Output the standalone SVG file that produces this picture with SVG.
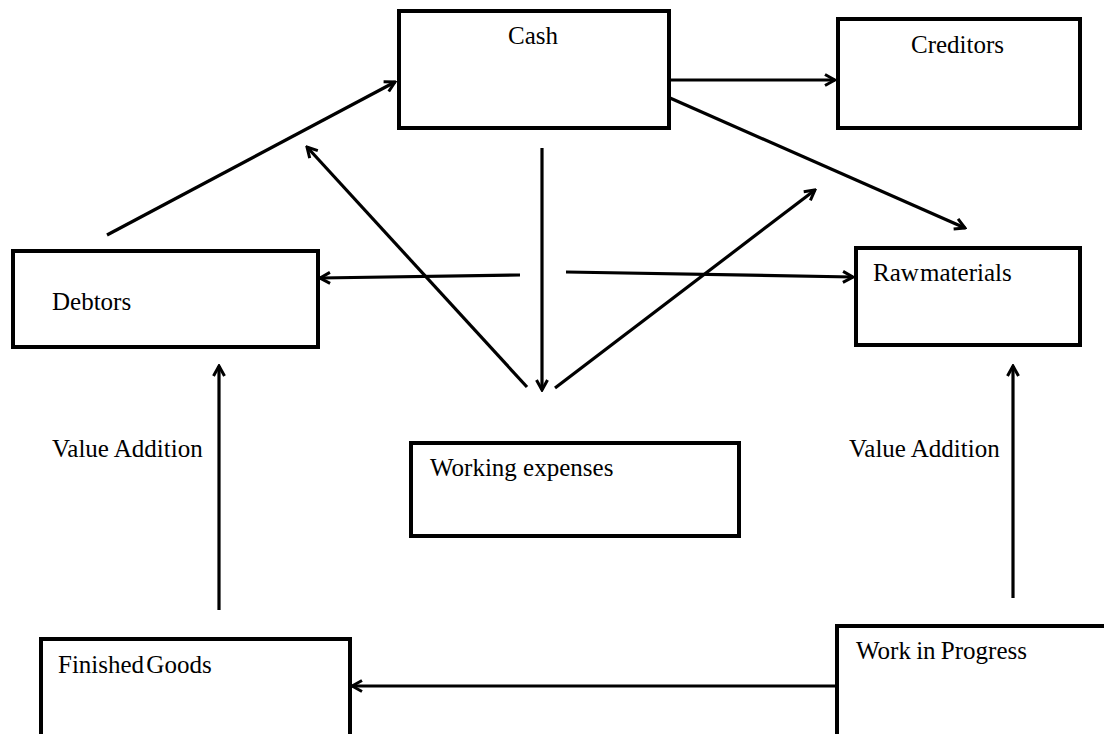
<svg xmlns="http://www.w3.org/2000/svg" width="1104" height="734" viewBox="0 0 1104 734">
<defs>
<marker id="ah" viewBox="0 0 14 14" refX="12" refY="7" markerWidth="14" markerHeight="14" markerUnits="userSpaceOnUse" orient="auto">
<path d="M2,1.5 L12,7 L2,12.5" fill="none" stroke="#000" stroke-width="3"/>
</marker>
<style>
.box{fill:#fff;stroke:#000;stroke-width:4}
.t{font-family:'Liberation Serif','DejaVu Serif',serif;font-size:25px;fill:#000}
.c{stroke:#000;stroke-width:3.2;fill:none;marker-end:url(#ah)}
</style>
</defs>
<rect width="1104" height="734" fill="#fff"/>
<g id="cash"><rect class="box" x="399" y="11" width="270" height="117"/><text class="t" x="533" y="44" text-anchor="middle">Cash</text></g>
<g id="creditors"><rect class="box" x="838" y="19" width="242" height="109"/><text class="t" x="911" y="53">Creditors</text></g>
<g id="debtors"><rect class="box" x="13" y="251" width="305" height="96"/><text class="t" x="52" y="310">Debtors</text></g>
<g id="raw"><rect class="box" x="856" y="248" width="224" height="97"/><text class="t" x="873" y="281" word-spacing="-5">Raw materials</text></g>
<g id="working"><rect class="box" x="411" y="443" width="328" height="93"/><text class="t" x="430" y="476">Working expenses</text></g>
<g id="finished"><rect class="box" x="41" y="639" width="309" height="110"/><text class="t" x="58" y="673" word-spacing="-4">Finished Goods</text></g>
<g id="wip"><rect class="box" x="837" y="626" width="280" height="120"/><text class="t" x="856" y="659" word-spacing="-1">Work in Progress</text></g>
<g id="labels">
<text class="t" x="52" y="457">Value Addition</text>
<text class="t" x="849" y="457">Value Addition</text>
</g>
<g id="connectors">
<line class="c" x1="107" y1="235" x2="395" y2="82"/>
<line class="c" x1="670" y1="80" x2="835" y2="80"/>
<line class="c" x1="670" y1="98" x2="965" y2="228"/>
<line class="c" x1="542" y1="148" x2="542" y2="390"/>
<line class="c" x1="520" y1="275" x2="320" y2="278"/>
<line class="c" x1="566" y1="272" x2="853" y2="277"/>
<line class="c" x1="527" y1="387" x2="307" y2="147"/>
<line class="c" x1="555" y1="388" x2="815" y2="190"/>
<line class="c" x1="219" y1="610" x2="219" y2="366"/>
<line class="c" x1="1013" y1="598" x2="1013" y2="366"/>
<line class="c" x1="836" y1="686" x2="352" y2="686"/>
</g>
</svg>
